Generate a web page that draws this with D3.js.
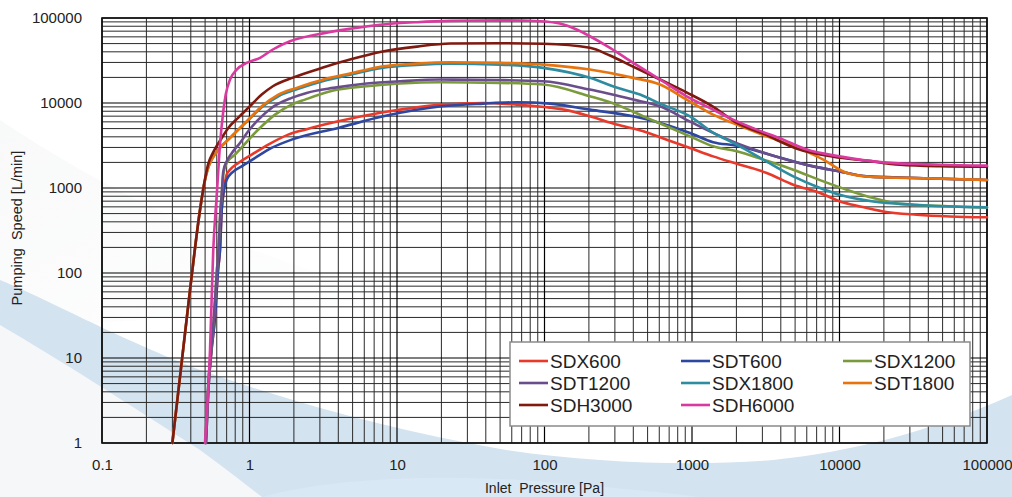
<!DOCTYPE html>
<html><head><meta charset="utf-8">
<script src="https://cdn.jsdelivr.net/npm/d3@7"></script>
<style>body{margin:0;background:#fff;}svg{display:block;font-family:"Liberation Sans",Arial,sans-serif;}</style>
</head><body>
<svg id="c" width="1012" height="497"></svg>
<script>
// ---- data (Inlet pressure [Pa], Pumping speed [L/min]) ----
const seriesNames = ["SDX600","SDT600","SDX1200","SDT1200","SDX1800","SDT1800","SDH3000","SDH6000"];
const seriesColors = ["#e8392b","#2e47a0","#7b9a3c","#6a4e8c","#2e8ca0","#e8740f","#7f1a10","#d93a9f"];
const xTickLabels = ["0.1","1","10","100","1000","10000","100000"];
const yTickLabels = ["1","10","100","1000","10000","100000"];

const SDX600 = [[0.507,1],[0.526,4.2],[0.553,12.5],[0.584,30.7],[0.612,109],[0.631,188],[0.648,555],[0.664,834],[0.70,1435],[0.738,1643],[0.84,1970],[1.035,2466],[1.34,3236],[1.83,4245],[2.38,4860],[4.0,6085],[8.07,7770],[20.1,9570],[38.5,10020],[64.8,9570],[109,8830],[141,8250],[203,6970],[308,5570],[468,4645],[674,3705],[969,2960],[1390,2356],[2115,1880],[3210,1503],[4860,1094],[7380,873],[10000,699],[13770,607],[19700,530],[33400,485],[56100,463],[100000,453]];
const SDT600 = [[0.507,1],[0.526,4.2],[0.553,12.5],[0.584,30.7],[0.612,109],[0.631,188],[0.648,555],[0.664,834],[0.70,1253],[0.758,1503],[0.885,1797],[1.09,2255],[1.41,2960],[1.93,3705],[4.0,5090],[8.07,6970],[20.1,9140],[38.5,9840],[64.8,10190],[109,9840],[203,8360],[400,6970],[607,5830],[969,4445],[1390,3460],[2010,3150],[3380,2466],[6640,1797],[10000,1570],[15300,1370],[37000,1304],[100000,1243]];
const SDX1200 = [[0.503,1],[0.523,4.2],[0.55,12.5],[0.574,30.7],[0.602,109],[0.616,188],[0.636,555],[0.648,834],[0.664,1435],[0.70,1970],[0.797,2466],[0.908,3150],[1.035,4055],[1.21,5320],[1.49,7300],[1.93,9570],[2.38,10960],[3.70,14000],[6.23,15730],[10.5,16930],[19.6,17530],[50,17250],[98,16480],[203,12000],[308,9570],[468,6970],[674,5320],[969,4055],[1390,3090],[2010,2700],[3040,2155],[4860,1643],[7770,1196],[11190,955],[16950,762],[25700,650],[31700,636],[100000,591]];
const SDT1200 = [[0.503,1],[0.523,4.2],[0.55,12.5],[0.574,30.7],[0.602,109],[0.616,188],[0.636,555],[0.648,834],[0.664,1570],[0.70,2057],[0.758,2570],[0.862,3388],[0.98,4645],[1.148,6370],[1.41,8750],[1.93,11480],[2.44,13150],[3.70,15060],[6.23,16930],[10.5,18020],[19.6,18870],[50,18620],[98,18020],[203,14380],[400,10960],[607,9140],[969,6040],[1390,4445],[2010,3370],[3380,2466],[6640,1797],[10000,1570],[15300,1370],[37000,1304],[100000,1243]];
const SDX1800 = [[0.30,1],[0.395,63],[0.462,555],[0.4916,1094],[0.52,1650],[0.554,2150],[0.615,2825],[0.718,3705],[0.84,4860],[0.98,6250],[1.21,8900],[1.57,12000],[2.09,14500],[3.17,18200],[4.8,21500],[8.07,26000],[13.6,28000],[22.9,28900],[50,28300],[98,25900],[203,19760],[308,15180],[444,12560],[607,9840],[969,6970],[1390,4480],[2010,3236],[3040,2155],[4860,1370],[7380,1000],[10000,834],[16950,695],[31700,636],[100000,591]];
const SDT1800 = [[0.30,1],[0.395,63],[0.462,555],[0.4916,1094],[0.52,1650],[0.554,2150],[0.615,2825],[0.718,3705],[0.84,4860],[0.98,6370],[1.21,9140],[1.57,12560],[2.09,15060],[3.17,18880],[4.8,22200],[8.07,27050],[13.6,29100],[22.9,30150],[50,29660],[98,28300],[203,24730],[400,19760],[607,16480],[920,10960],[1390,7300],[2010,5570],[3210,4055],[4990,3065],[7770,2155],[11190,1502],[16950,1348],[37000,1304],[100000,1243]];
const SDH3000 = [[0.30,1],[0.395,63],[0.462,555],[0.4916,1094],[0.5234,1880],[0.566,2606],[0.648,3880],[0.718,5090],[0.84,6730],[0.98,8750],[1.21,12560],[1.44,15740],[1.97,19900],[3.15,26100],[4.8,32400],[8.0,40300],[13.7,46100],[22.9,50100],[50,50500],[98,49700],[203,44600],[278,36150],[398,26840],[607,18900],[925,13250],[1387,9070],[2010,5830],[3040,4360],[5150,2900],[9080,2338],[15300,2097],[25700,1880],[48000,1806],[100000,1782]];
const SDH6000 = [[0.499,1],[0.540,12.5],[0.568,188],[0.60,834],[0.631,3236],[0.664,7980],[0.69,12560],[0.738,18870],[0.819,24730],[0.957,29660],[1.18,34000],[1.44,42600],[1.88,53300],[2.86,63900],[4.8,74600],[8.0,83800],[13.7,89300],[22.9,92600],[50,94000],[93.2,91700],[127,86100],[165,73200],[203,61000],[278,44600],[400,29700],[607,18900],[920,12000],[1390,8360],[1897,6370],[2750,4860],[4160,3705],[6000,2830],[10000,2356],[19700,2004],[48000,1880],[100000,1832]];
const seriesData = [SDX600,SDT600,SDX1200,SDT1200,SDX1800,SDT1800,SDH3000,SDH6000];

// ---- layout ----
const svg = d3.select("#c");
const L = 102, R = 987, T = 18, B = 443;
const x = d3.scaleLog().domain([0.1,100000]).range([L,R]);
const y = d3.scaleLog().domain([1,100000]).range([B,T]);

// background decoration
const bg = svg.append("g");
bg.append("rect").attr("width",1012).attr("height",497).attr("fill","#ffffff");
const grad = svg.append("defs").append("linearGradient").attr("id","gg").attr("x1","0").attr("y1","0").attr("x2","1").attr("y2","1");
grad.append("stop").attr("offset","0").attr("stop-color","#f4f5f6");
grad.append("stop").attr("offset","1").attr("stop-color","#ffffff");
bg.append("path").attr("d","M0,120 C120,200 250,260 420,300 L0,330 Z").attr("fill","url(#gg)").attr("opacity",0.6);
bg.append("path").attr("fill","#d4e3f0")
  .attr("d","M0,280 C60,305 100,330 200,370 C300,405 400,432 506,450 C600,464 700,466 773,460 C850,452 930,432 1012,395 L1012,497 L0,497 Z");
bg.append("path").attr("fill","#f6f7f9")
  .attr("d","M0,325 C60,360 130,405 200,450 C225,468 245,484 262,497 L0,497 Z");
bg.append("path").attr("fill","#dbeaf7")
  .attr("d","M262,497 C320,480 420,474 520,480 C600,486 660,492 700,497 Z").attr("opacity",0.7);

// grid
const grid = svg.append("g");
const minorX = [], minorY = [];
for (let e=-1;e<5;e++) for (let k=2;k<=9;k++) minorX.push(k*Math.pow(10,e));
for (let e=0;e<5;e++) for (let k=2;k<=9;k++) minorY.push(k*Math.pow(10,e));
const majorX = xTickLabels.map(Number), majorY = yTickLabels.map(Number);
grid.selectAll(".mx").data(minorX).join("line")
  .attr("x1",d=>x(d)).attr("x2",d=>x(d)).attr("y1",T).attr("y2",B)
  .attr("stroke","#2a2a2a").attr("stroke-width",1);
grid.selectAll(".my").data(minorY).join("line")
  .attr("y1",d=>y(d)).attr("y2",d=>y(d)).attr("x1",L).attr("x2",R)
  .attr("stroke","#2a2a2a").attr("stroke-width",1);
grid.selectAll(".Mx").data(majorX).join("line")
  .attr("x1",d=>x(d)).attr("x2",d=>x(d)).attr("y1",T).attr("y2",B)
  .attr("stroke","#000").attr("stroke-width",1.2);
grid.selectAll(".My").data(majorY).join("line")
  .attr("y1",d=>y(d)).attr("y2",d=>y(d)).attr("x1",L).attr("x2",R)
  .attr("stroke","#000").attr("stroke-width",1.2);
svg.append("rect").attr("x",L).attr("y",T).attr("width",R-L).attr("height",B-T)
  .attr("fill","none").attr("stroke","#111").attr("stroke-width",1.6);

// axes (labels only)
const xAxis = d3.axisBottom(x).tickValues(majorX).tickFormat((d,i)=>xTickLabels[i]).tickSize(0).tickPadding(16);
const gx = svg.append("g").attr("transform",`translate(0,${B})`).call(xAxis);
gx.select(".domain").remove();
gx.selectAll("text").attr("font-size",15).attr("fill","#222").attr("font-family","Liberation Sans, Arial, sans-serif");
const yAxis = d3.axisLeft(y).tickValues(majorY).tickFormat((d,i)=>yTickLabels[i]).tickSize(0).tickPadding(20);
const gy = svg.append("g").attr("transform",`translate(${L},0)`).call(yAxis);
gy.select(".domain").remove();
gy.selectAll("text").attr("font-size",15).attr("fill","#222").attr("font-family","Liberation Sans, Arial, sans-serif");

svg.append("text").attr("transform","translate(22,228) rotate(-90)").attr("text-anchor","middle")
  .attr("font-size",14.5).attr("fill","#222").attr("xml:space","preserve").text("Pumping  Speed [L/min]");
svg.append("text").attr("x",(L+R)/2).attr("y",493).attr("text-anchor","middle")
  .attr("font-size",14).attr("fill","#222").attr("xml:space","preserve").text("Inlet  Pressure [Pa]");

// lines
const line = d3.line().x(d=>x(d[0])).y(d=>y(d[1])).curve(d3.curveMonotoneX);
svg.append("g").selectAll("path").data(seriesData).join("path")
  .attr("d",line).attr("fill","none").attr("stroke",(d,i)=>seriesColors[i])
  .attr("stroke-width",2.6).attr("stroke-linejoin","round").attr("stroke-linecap","round");

// legend
const lg = svg.append("g");
lg.append("rect").attr("x",510).attr("y",342).attr("width",460).attr("height",84)
  .attr("fill","#fff").attr("stroke","#8a8a8a").attr("stroke-width",1.5);
const items = lg.selectAll(".it").data(seriesNames).join("g")
  .attr("transform",(d,i)=>`translate(${519+(i%3)*162},${361+Math.floor(i/3)*22})`);
items.append("line").attr("x1",0).attr("x2",29).attr("y1",0).attr("y2",0)
  .attr("stroke",(d,i)=>seriesColors[i]).attr("stroke-width",2.6);
items.append("text").attr("x",31).attr("y",0).attr("dy","0.36em")
  .attr("font-size",19).attr("fill","#222").text(d=>d);
</script>
</body></html>
